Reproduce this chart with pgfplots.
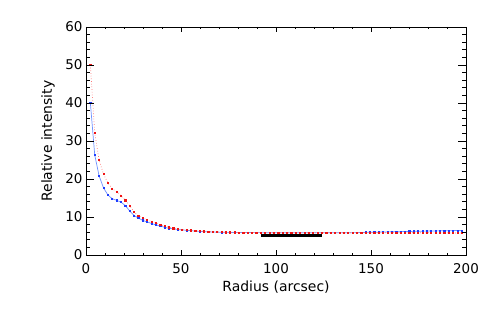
\documentclass[border=0pt]{standalone}
\usepackage{fontspec}
\setmainfont{DejaVu Sans}
\usepackage{pgfplots}
\pgfplotsset{compat=1.18}
\definecolor{bline}{RGB}{110,145,255}
\definecolor{bmark}{RGB}{30,60,255}
\definecolor{rline}{RGB}{255,120,120}
\definecolor{rmark}{RGB}{240,20,20}
\pgfplotsset{
  common/.style={
    scale only axis, width=380bp, height=228bp,
    at={(0,0)}, anchor=south west,
    xmin=0, xmax=200, ymin=0, ymax=60,
    axis line style={line width=0.9bp},
    every tick/.style={black, line width=0.8bp},
    tick align=inside,
    /pgf/number format/assume math mode=true,
    tick label style={font=\fontsize{13.5}{16}\selectfont},
  }
}
\begin{document}
\begin{tikzpicture}
\useasboundingbox (-86bp,-55bp) rectangle (405bp,255bp);
\begin{axis}[common,
  xtick={0,50,100,150,200}, minor x tick num=4,
  ytick=\empty,
  major tick length=4.6bp, minor tick length=2.3bp,
  xticklabel style={yshift=-5bp},
  xlabel={Radius (arcsec)},
  every axis x label/.style={at={(axis description cs:0.5,0)}, anchor=base, yshift=-36bp, font=\fontsize{14}{17}\selectfont},
]
\addplot[bline, line width=0.7bp, mark=square*, mark size=0.6bp, mark options={bmark, solid}] table {
x y
2.3 40.0
4.6 26.3
6.9 20.8
9.2 17.7
11.5 15.8
13.8 14.8
16.1 14.4
18.4 13.9
20.7 13.0
23.0 11.6
25.3 10.4
27.6 9.7
29.9 9.1
32.2 8.7
34.5 8.3
36.8 7.9
39.1 7.6
41.4 7.3
43.7 7.0
46.0 6.9
48.3 6.7
50.6 6.6
52.9 6.5
55.2 6.4
57.5 6.3
59.8 6.2
62.1 6.15
64.4 6.1
66.7 6.05
69.0 6.0
71.3 5.98
73.6 5.96
75.9 5.94
78.2 5.93
80.5 5.92
82.8 5.91
85.1 5.9
87.4 5.9
89.7 5.89
92.0 5.88
94.3 5.88
96.6 5.87
98.9 5.87
101.2 5.86
103.5 5.86
105.8 5.86
108.1 5.85
110.4 5.85
112.7 5.85
115.0 5.85
117.3 5.85
119.6 5.85
121.9 5.85
124.2 5.85
126.5 5.85
128.8 5.86
131.1 5.86
133.4 5.86
135.7 5.87
138.0 5.87
140.3 5.88
142.6 5.9
144.9 5.92
147.2 5.95
149.5 5.97
151.8 6.0
154.1 6.02
156.4 6.05
158.7 6.08
161.0 6.1
163.3 6.12
165.6 6.15
167.9 6.17
170.2 6.2
172.5 6.22
174.8 6.25
177.1 6.27
179.4 6.3
181.7 6.32
184.0 6.34
186.3 6.36
188.6 6.38
190.9 6.4
193.2 6.42
195.5 6.43
197.8 6.45
};
\addplot[rline, line width=0.7bp, dotted, mark=square*, mark size=0.6bp, mark options={rmark, solid}] table {
x y
2.3 50.0
4.6 32.1
6.9 25.0
9.2 21.3
11.5 19.0
13.8 17.4
16.1 16.7
18.4 15.6
20.7 14.4
23.0 13.0
25.3 11.3
27.6 10.3
29.9 9.8
32.2 9.2
34.5 8.8
36.8 8.4
39.1 7.9
41.4 7.7
43.7 7.3
46.0 7.0
48.3 6.85
50.6 6.7
52.9 6.6
55.2 6.5
57.5 6.4
59.8 6.3
62.1 6.2
64.4 6.15
66.7 6.1
69.0 6.05
71.3 6.0
73.6 5.98
75.9 5.96
78.2 5.94
80.5 5.93
82.8 5.92
85.1 5.91
87.4 5.9
89.7 5.89
92.0 5.88
94.3 5.88
96.6 5.87
98.9 5.87
101.2 5.86
103.5 5.86
105.8 5.86
108.1 5.85
110.4 5.85
112.7 5.85
115.0 5.85
117.3 5.85
119.6 5.85
121.9 5.85
124.2 5.85
126.5 5.85
128.8 5.85
131.1 5.85
133.4 5.85
135.7 5.85
138.0 5.85
140.3 5.85
142.6 5.85
144.9 5.85
147.2 5.85
149.5 5.85
151.8 5.85
154.1 5.85
156.4 5.85
158.7 5.85
161.0 5.85
163.3 5.84
165.6 5.84
167.9 5.84
170.2 5.84
172.5 5.84
174.8 5.83
177.1 5.83
179.4 5.83
181.7 5.83
184.0 5.82
186.3 5.82
188.6 5.82
190.9 5.82
193.2 5.81
195.5 5.81
197.8 5.8
};
\addplot[black, line width=2.6bp] coordinates {(92.1,5.1) (124.4,5.1)};
\end{axis}
\begin{axis}[common,
  xtick=\empty,
  ytick={0,10,20,30,40,50,60}, minor y tick num=4,
  major tick length=7.6bp, minor tick length=3.8bp,
  ylabel={Relative intensity},
  every axis y label/.style={at={(axis description cs:0,0.5)}, xshift=-34bp, rotate=90, anchor=base, font=\fontsize{14}{17}\selectfont},
]
\end{axis}
\end{tikzpicture}
\end{document}
